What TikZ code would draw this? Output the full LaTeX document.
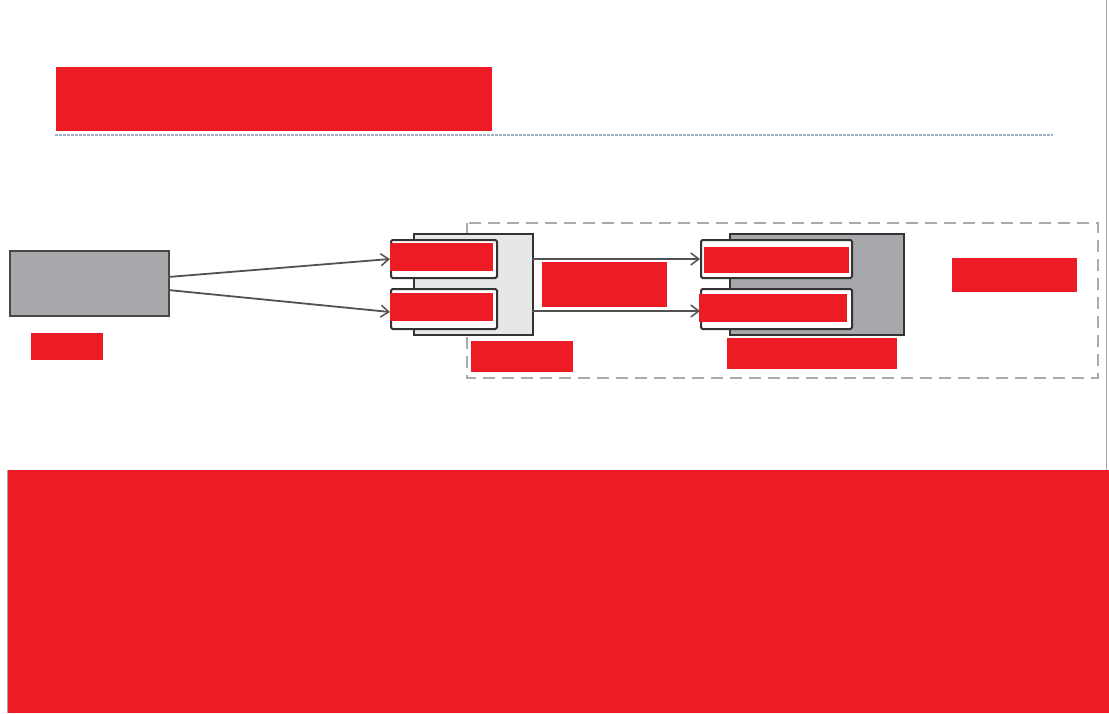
\documentclass[tikz,border=0pt]{standalone}
\usetikzlibrary{arrows.meta}
\definecolor{redact}{HTML}{ED1C24}
\definecolor{midgray}{HTML}{A7A8AB}
\definecolor{lightgray}{HTML}{E6E7E8}
\definecolor{edge}{HTML}{333333}
\definecolor{dashgray}{HTML}{AAAAAA}
\definecolor{dotblue}{HTML}{A0B0C4}
\tikzset{
  redbox/.style={fill=redact, draw=none},
  compbox/.style={draw=edge, line width=2pt},
  portbox/.style={draw=edge, fill=white, line width=2pt, rounded corners=1.5pt},
  link/.style={draw=edge!85, line width=1.8pt, -{Straight Barb[length=8pt,width=12pt,line width=1.5pt]}},
}
\begin{document}
\begin{tikzpicture}[x=1pt,y=-1pt]
\useasboundingbox (0,0) rectangle (1109,713);
% frame lines
\draw[gray!70, line width=1pt] (1106,0) -- (1106,470);
\draw[gray!70, line width=1pt] (7.5,470) -- (7.5,713);
% title
\fill[redact] (56,67) rectangle (492,131);
\draw[dotblue, line width=1.3pt, dash pattern=on 2.5pt off 1.5pt] (55,135) -- (1053,135);
% dashed group
\draw[dashgray, line width=2pt, dash pattern=on 12pt off 7pt] (467,223) rectangle (1098,378);
% source box
\node[draw=edge!90, fill=midgray, line width=2pt, minimum width=159pt, minimum height=65pt, inner sep=0pt, anchor=north west] (src) at (9,250) {};
\fill[redact] (31,333) rectangle (103,360);
% component 1
\node[compbox, fill=lightgray, minimum width=119pt, minimum height=101pt, inner sep=0pt, anchor=north west] (c1) at (413,233) {};
\node[portbox, minimum width=106pt, minimum height=38pt, inner sep=0pt, anchor=north west] (p1a) at (390,239) {};
\node[portbox, minimum width=106pt, minimum height=40pt, inner sep=0pt, anchor=north west] (p1b) at (390,288) {};
\fill[redact] (390,243) rectangle (493,271);
\fill[redact] (390,293) rectangle (493,321);
\fill[redact] (471,341) rectangle (573,372);
% component 2
\node[compbox, fill=midgray, minimum width=174pt, minimum height=101pt, inner sep=0pt, anchor=north west] (c2) at (729,233) {};
\node[portbox, minimum width=151pt, minimum height=38pt, inner sep=0pt, anchor=north west] (p2a) at (700,239) {};
\node[portbox, minimum width=151pt, minimum height=40pt, inner sep=0pt, anchor=north west] (p2b) at (700,288) {};
\fill[redact] (704,247) rectangle (849,273);
\fill[redact] (699,294) rectangle (847,322);
\fill[redact] (727,338) rectangle (897,369);
% connectors
\coordinate (s1) at (168,277);
\coordinate (s2) at (168,290);
\draw[link] (s1) -- (p1a.west);
\draw[link] (s2) -- ([yshift=-3pt]p1b.west);
\coordinate (o1) at (532,259);
\coordinate (o2) at (532,311);
\draw[link] (o1) -- (p2a.west |- o1);
\draw[link] (o2) -- (p2b.west |- o2);
% labels
\fill[redact] (542,262) rectangle (667,307);
\fill[redact] (952,258) rectangle (1077,292);
% bottom block
\fill[redact] (8,470) rectangle (1109,713);
\end{tikzpicture}
\end{document}
